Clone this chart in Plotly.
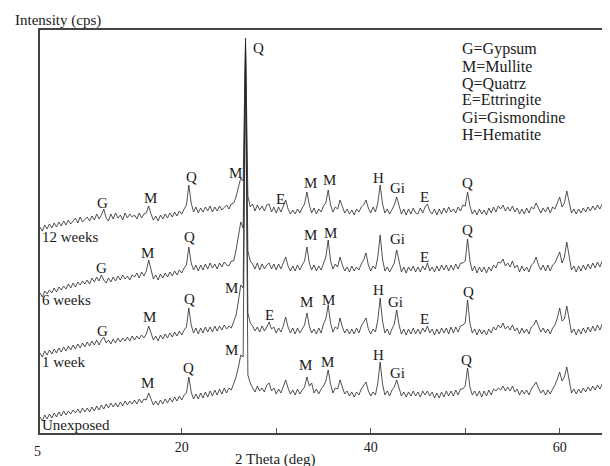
import plotly.graph_objects as go

# ---------------- data (intensity, arbitrary stacked units) ----------------
step = 0.25  # 2-theta sampling step, starting at 5 deg

unexposed = [
    16,12,18,14,19,15,20,16,21,17,22,18,22,19,23,20,24,20,25,21,
    25,21,26,22,27,23,28,24,29,25,30,26,30,26,31,27,32,28,32,29,
    33,29,34,30,34,33,40,33,28,32,28,33,29,34,30,35,31,36,32,37,
    33,38,40,56,41,34,39,34,40,35,41,36,42,37,43,38,44,39,45,40,
    45,43,49,56,66,78,76,380,58,50,45,41,47,42,45,41,48,50,42,45,
    39,44,40,46,53,45,39,43,38,44,39,43,46,56,47,50,40,44,39,44,
    47,52,63,49,40,45,44,53,46,39,42,37,41,36,41,38,44,48,51,42,
    37,41,38,50,71,49,38,42,37,43,46,53,45,37,41,36,41,37,42,37,
    41,36,42,38,42,37,41,35,40,35,41,36,42,37,42,37,43,38,44,44,
    47,65,46,38,42,37,42,36,42,37,43,38,44,42,45,43,47,42,46,42,
    47,41,44,38,43,39,43,38,44,47,51,45,40,43,38,43,39,44,48,54,
    61,52,56,66,52,40,44,39,44,40,45,41,46,42,47,43,48,44,49,51,
    44]

week_1 = [
    80,76,82,78,83,79,84,80,85,81,86,82,87,83,88,84,89,85,90,86,
    91,87,92,88,93,88,93,96,90,93,89,94,90,95,91,95,92,96,92,97,
    93,97,94,98,95,99,107,99,93,97,92,98,94,99,95,100,96,101,97,102,
    98,103,106,125,108,100,105,99,105,100,106,101,106,101,107,102,107,103,108,104,
    107,105,111,118,132,148,145,385,120,110,107,102,106,101,107,102,106,111,104,106,
    100,105,101,107,116,106,100,105,99,105,100,104,108,120,107,100,104,99,105,100,
    109,114,128,110,101,106,104,115,106,100,104,99,104,99,105,100,107,111,115,104,
    99,104,101,113,135,112,100,104,98,104,109,123,108,99,104,98,104,99,105,99,
    104,99,105,101,107,100,104,98,104,99,105,100,105,99,106,100,106,101,107,108,
    110,133,110,100,104,98,104,99,103,98,104,100,106,103,108,105,110,104,107,103,
    108,102,105,99,105,100,104,99,106,108,113,107,101,105,100,104,99,105,108,115,
    125,112,114,127,112,100,104,98,104,99,105,100,106,101,107,102,108,103,109,115,
    105]

weeks_6 = [
    140,136,142,139,143,140,145,141,146,143,147,144,149,145,150,146,151,148,152,149,
    153,149,155,151,156,152,158,153,150,155,151,156,152,157,153,158,154,157,153,158,
    156,160,155,161,157,162,173,163,154,158,153,159,155,160,156,161,157,162,158,163,
    160,165,168,186,170,163,168,162,168,163,169,164,170,165,169,164,170,166,171,168,
    167,172,172,183,197,211,205,390,182,172,169,164,170,163,169,164,168,170,164,169,
    163,169,164,170,176,167,162,167,162,168,163,168,172,186,170,163,168,162,167,163,
    170,176,193,172,164,169,166,176,168,162,166,161,167,162,166,163,169,173,180,168,
    162,167,164,176,198,174,162,166,161,166,170,183,170,161,166,160,166,162,167,161,
    166,161,167,163,170,162,166,161,167,162,168,163,168,162,168,163,169,164,170,170,
    172,194,172,162,167,160,166,161,166,160,166,162,168,165,171,170,174,167,170,166,
    172,165,168,161,167,162,166,161,168,170,176,168,163,168,162,168,162,168,170,175,
    181,170,176,191,175,163,167,161,167,162,168,163,169,164,170,165,171,166,172,176,
    167]

weeks_12 = [
    206,202,208,204,209,205,210,206,211,207,212,208,213,209,212,215,210,216,211,214,
    216,212,217,213,219,214,218,224,215,212,219,214,220,215,218,213,220,215,219,216,
    218,214,220,215,219,220,227,219,213,217,212,218,214,219,215,220,216,221,217,222,
    219,224,228,248,230,221,226,220,225,221,226,222,227,221,226,222,227,223,226,228,
    224,229,230,236,246,255,252,395,237,226,229,222,228,223,227,222,228,229,221,226,
    220,226,221,227,233,224,219,223,219,224,220,225,229,241,228,220,225,219,224,221,
    227,230,243,228,221,226,224,233,226,220,224,219,223,218,224,221,226,228,233,225,
    220,226,221,230,248,229,220,224,219,224,228,236,226,219,224,218,224,219,225,220,
    219,225,220,226,229,222,219,224,218,224,219,225,220,226,221,224,220,226,222,228,
    227,241,227,219,223,218,224,219,223,218,225,220,226,221,227,224,228,222,226,222,
    227,221,225,219,224,219,225,220,226,224,230,225,220,225,221,226,220,226,224,230,
    236,226,230,242,231,220,224,219,224,220,225,221,226,222,227,223,228,224,229,230,
    225]

series_names = ["Unexposed", "1 week", "6 weeks", "12 weeks"]
series_values = [unexposed, week_1, weeks_6, weeks_12]
series_label_y = [8, 71, 133, 196]

# phase labels: text, 2-theta position, height
peak_text = ["G", "M", "Q", "M", "E", "M", "M", "H", "Gi", "E", "Q", "Q",
             "G", "M", "Q", "M", "M", "Gi", "E", "Q",
             "G", "M", "Q", "M", "E", "M", "M", "H", "Gi", "E", "Q",
             "M", "Q", "M", "M", "M", "H", "Gi", "Q"]
peak_x = [11.6, 16.7, 21.05, 25.7, 30.4, 33.6, 35.6, 40.8, 42.8, 45.7, 50.2, 28.1,
          11.5, 16.4, 20.8, 33.6, 35.7, 42.8, 45.7, 50.2,
          11.6, 16.6, 20.8, 25.3, 29.3, 33.2, 35.5, 40.8, 42.6, 45.7, 50.4,
          16.4, 20.75, 25.3, 33.1, 35.4, 40.8, 42.8, 50.1]
peak_y = [230, 235, 256, 260, 234, 250, 253, 255, 245, 236, 250, 385,
          165, 180, 196, 198, 200, 194, 176, 203,
          102, 116, 134, 145, 118, 131, 133, 143, 131, 114, 141,
          50, 65, 83, 68, 71, 78, 60, 73]

legend_lines = ["G=Gypsum", "M=Mullite", "Q=Quatrz", "E=Ettringite",
                "Gi=Gismondine", "H=Hematite"]
legend_y = [384, 367, 350, 333, 316, 299]

x_tick_vals = [20, 30, 40, 50, 60]
x_tick_text = ["20", "", "40", "", "60"]

# ---------------- figure ----------------
FONT = "Liberation Serif, Times New Roman, serif"
INK = "#1a1a1a"

fig = go.Figure()
for name, vals in zip(series_names, series_values):
    two_theta = [5 + step * i for i in range(len(vals))]
    fig.add_trace(go.Scatter(x=two_theta, y=vals, mode="lines", name=name,
                             line=dict(color="#262626", width=0.8),
                             hoverinfo="skip"))

ann = []
for name, yy in zip(series_names, series_label_y):
    ann.append(dict(x=5.05, y=yy, xref="x", yref="y", text=name, showarrow=False,
                    xanchor="left", yanchor="middle",
                    font=dict(family=FONT, size=15, color=INK)))
for t, xx, yy in zip(peak_text, peak_x, peak_y):
    ann.append(dict(x=xx, y=yy, xref="x", yref="y", text=t, showarrow=False,
                    xanchor="center", yanchor="middle",
                    font=dict(family=FONT, size=15, color=INK)))
for t, yy in zip(legend_lines, legend_y):
    ann.append(dict(x=49.4, y=yy, xref="x", yref="y", text=t, showarrow=False,
                    xanchor="left", yanchor="middle",
                    font=dict(family=FONT, size=16, color=INK)))
ann.append(dict(x=-0.0475, y=1.0248, xref="paper", yref="paper",
                text="Intensity (cps)", showarrow=False,
                xanchor="left", yanchor="middle",
                font=dict(family=FONT, size=15, color=INK)))
ann.append(dict(x=29.9, y=0, xref="x", yref="paper", yshift=-26,
                text="2 Theta (deg)", showarrow=False,
                xanchor="center", yanchor="middle",
                font=dict(family=FONT, size=15, color=INK)))
ann.append(dict(x=-0.0053, y=0, xref="paper", yref="paper", yshift=-18, text="5",
                showarrow=False, xanchor="center", yanchor="middle",
                font=dict(family=FONT, size=14, color=INK)))

# the page body adds an 8 px margin, so the figure is 8 px smaller and shifted
fig.update_layout(
    width=602, height=458,
    margin=dict(l=32, r=2, t=22, b=33),
    paper_bgcolor="white", plot_bgcolor="white",
    showlegend=False,
    annotations=ann,
    xaxis=dict(range=[5, 64.9], tickvals=x_tick_vals, ticktext=x_tick_text,
               ticks="inside", ticklen=5, tickcolor="#555", tickwidth=1,
               showline=True, linecolor="#444", linewidth=1.5, mirror=True,
               showgrid=False, zeroline=False,
               tickfont=dict(family=FONT, size=14, color=INK)),
    yaxis=dict(range=[0, 403], showticklabels=False, ticks="",
               showline=True, linecolor="#444", linewidth=1.5, mirror=True,
               showgrid=False, zeroline=False),
)

fig.write_html("out.html")
